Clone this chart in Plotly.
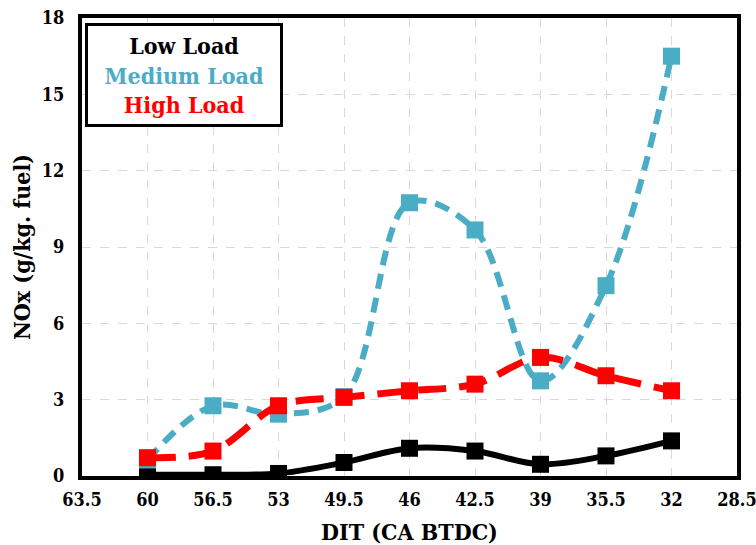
import plotly.graph_objects as go

# Injection timing (deg CA BTDC) and NOx emission index per load
dit = [60, 56.5, 53, 49.5, 46, 42.5, 39, 35.5, 32]
low_load = [0.05, 0.05, 0.1, 0.53, 1.09, 0.98, 0.46, 0.79, 1.38]
medium_load = [0.63, 2.76, 2.43, 3.12, 10.74, 9.67, 3.74, 7.48, 16.5]
high_load = [0.72, 0.98, 2.76, 3.09, 3.35, 3.61, 4.66, 3.94, 3.35]

x_ticks = [63.5, 60, 56.5, 53, 49.5, 46, 42.5, 39, 35.5, 32, 28.5]
y_ticks = [0, 3, 6, 9, 12, 15, 18]

FONT = "DejaVu Serif Condensed"
BLUE = "#4BACC6"
RED = "#FF0000"

fig = go.Figure()

series = [
    ("Low Load", low_load, "black", "solid", 6),
    ("Medium Load", medium_load, BLUE, "15px,9px", 6),
    ("High Load", high_load, RED, "28px,13px", 7),
]
for name, ys, color, dash, width in series:
    fig.add_trace(go.Scatter(
        x=dit, y=ys, name=name, mode="lines+markers",
        line=dict(color=color, width=width, dash=dash, shape="spline", smoothing=1.0),
        marker=dict(symbol="square", size=17, color=color),
        showlegend=False,
    ))

axis_common = dict(
    showline=True, linecolor="black", linewidth=4, mirror=True,
    showgrid=True, gridcolor="#d9d9d9", gridwidth=1, griddash="dash",
    zeroline=False, ticks="", automargin=False, ticklabeloverflow="allow",
    tickfont=dict(family=FONT, size=18, color="black", weight="bold"),
)

fig.update_xaxes(
    range=[63.5, 28.5], tickvals=x_ticks, ticktext=[f"{v:g}" for v in x_ticks],
    ticklabelstandoff=4,
    title=dict(text="<b>DIT (CA BTDC)</b>", font=dict(family=FONT, size=23, color="black"),
               standoff=16),
    **axis_common,
)
fig.update_yaxes(
    range=[0, 18], tickvals=y_ticks, ticklabelstandoff=10,
    title=dict(text="<b>NOx (g/kg. fuel)</b>", font=dict(family=FONT, size=23, color="black"),
               standoff=6),
    **axis_common,
)

legend_text = (
    "<b><span style='color:black'>Low Load</span><br>"
    f"<span style='color:{BLUE}'>Medium Load</span><br>"
    f"<span style='color:{RED}'>High Load</span></b>"
)
fig.add_annotation(
    xref="paper", yref="paper", x=0.005, y=0.99, xanchor="left", yanchor="top",
    text=legend_text, showarrow=False, align="center", valign="middle",
    font=dict(family=FONT, size=23),
    bordercolor="black", borderwidth=3, borderpad=2, bgcolor="white",
    width=188, height=94,
)

fig.update_layout(
    width=756, height=545,
    margin=dict(l=82, r=19, t=18, b=69),
    plot_bgcolor="white", paper_bgcolor="white",
)

fig.write_html("out.html")
